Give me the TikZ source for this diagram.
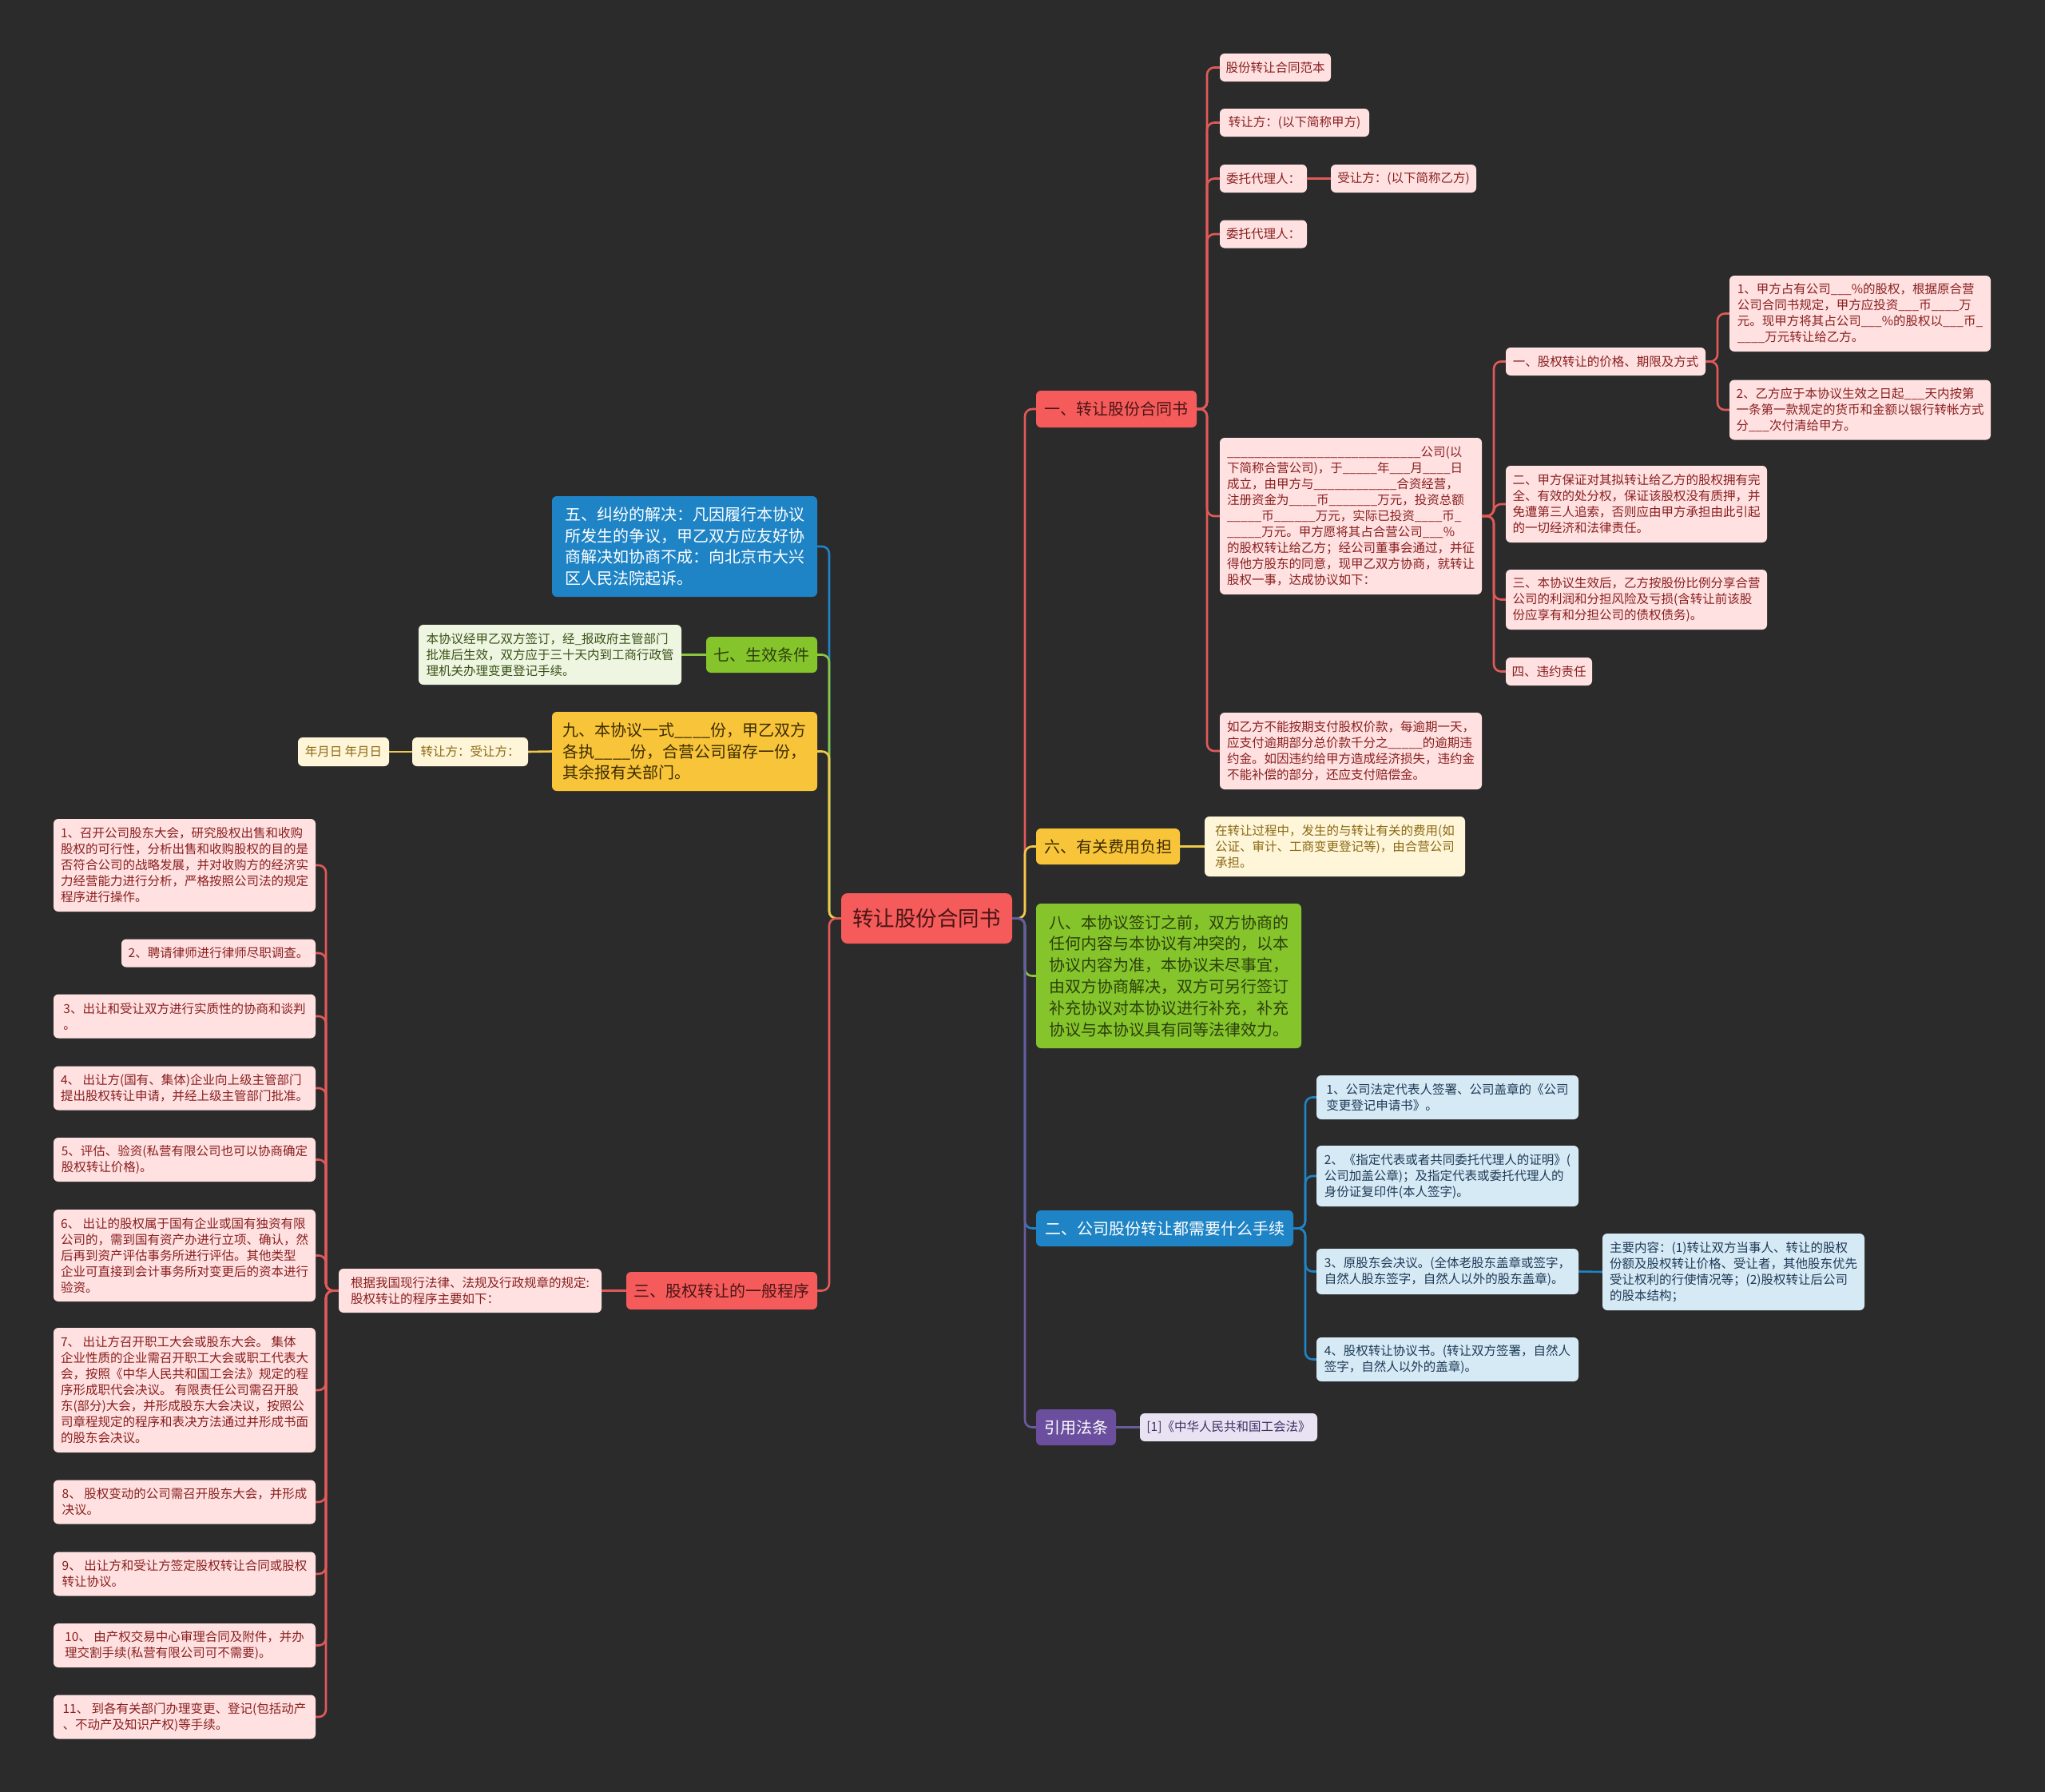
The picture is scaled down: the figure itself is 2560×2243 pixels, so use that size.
\documentclass[tikz,border=0pt]{standalone}
\usepackage{fontspec}
\setmainfont{Noto Sans CJK SC}
\definecolor{bgc}{HTML}{2B2B2B}
\definecolor{fRed}{HTML}{F65B5B}
\definecolor{lRed}{HTML}{E05A5A}
\definecolor{pRed}{HTML}{FFE1E1}
\definecolor{tRed}{HTML}{8A1F1F}
\definecolor{dRed}{HTML}{4A1515}
\definecolor{fYel}{HTML}{F8C53A}
\definecolor{lYel}{HTML}{F0C94A}
\definecolor{pYel}{HTML}{FFF5D8}
\definecolor{tYel}{HTML}{8A6A14}
\definecolor{dYel}{HTML}{3D2B00}
\definecolor{fGrn}{HTML}{86C42C}
\definecolor{lGrn}{HTML}{8CC63F}
\definecolor{pGrn}{HTML}{EEF6E1}
\definecolor{tGrn}{HTML}{3A5218}
\definecolor{dGrn}{HTML}{2A400C}
\definecolor{fBlu}{HTML}{1F84C6}
\definecolor{lBlu}{HTML}{1F84C6}
\definecolor{pBlu}{HTML}{D6EAF6}
\definecolor{tBlu}{HTML}{1E3A56}
\definecolor{fPur}{HTML}{6B4F9E}
\definecolor{lPur}{HTML}{6A5A9E}
\definecolor{pPur}{HTML}{E8E2F2}
\definecolor{tPur}{HTML}{3F2F66}
\newcommand\lffont{\fontsize{15.5}{20}\selectfont}
\newcommand\brfont{\fontsize{20}{26.8}\selectfont}
\newcommand\ctfont{\fontsize{26.5}{32}\selectfont}
\newcommand\uu[1]{\ifnum#1>0 \_\expandafter\uu\expandafter{\the\numexpr#1-1\relax}\fi}
\begin{document}
\begin{tikzpicture}[x=1pt,y=-1pt,
 sz/.style 2 args={minimum width=#1pt,minimum height=#2pt},
 box/.style={rounded corners=6pt,inner xsep=6pt,inner ysep=3pt,align=left},
 ctr/.style={box,fill=fRed,text=dRed,font=\ctfont,rounded corners=8pt},
 bR/.style={box,fill=fRed,text=dRed,font=\brfont},
 bY/.style={box,fill=fYel,text=dYel,font=\brfont},
 bG/.style={box,fill=fGrn,text=dGrn,font=\brfont},
 bB/.style={box,fill=fBlu,text=white,font=\brfont},
 bP/.style={box,fill=fPur,text=white,font=\brfont},
 lR/.style={box,fill=pRed,text=tRed,font=\lffont},
 lY/.style={box,fill=pYel,text=tYel,font=\lffont},
 lG/.style={box,fill=pGrn,text=tGrn,font=\lffont},
 lB/.style={box,fill=pBlu,text=tBlu,font=\lffont},
 lP/.style={box,fill=pPur,text=tPur,font=\lffont},
 con/.style={line width=2.6pt,rounded corners=9pt},
]
\fill[bgc] (0,0) rectangle (2560,2243);
\useasboundingbox (0,0) rectangle (2560,2243);

\coordinate (TR) at (1283,0);
\coordinate (TL) at (1038,0);
\coordinate (Ta) at (1511,0);
\coordinate (Tb) at (1870,0);
\coordinate (Tc) at (2150,0);
\coordinate (Td) at (1634,0);
\coordinate (Te) at (408,0);

% center and main branches
\node[ctr,sz={214}{63}] (C) at (1160,1149.5) {转让股份合同书};
\node[bR,sz={201}{46}] (R1) at (1397.5,512) {一、转让股份合同书};
\node[bY,sz={180}{45}] (R6) at (1387,1059.5) {六、有关费用负担};
\node[bG,sz={332}{181}] (R8) at (1463,1221.5) {八、本协议签订之前，双方协商的\\任何内容与本协议有冲突的，以本\\协议内容为准，本协议未尽事宜，\\由双方协商解决，双方可另行签订\\补充协议对本协议进行补充，补充\\协议与本协议具有同等法律效力。};
\node[bB,sz={322}{45}] (R2) at (1458,1537.5) {二、公司股份转让都需要什么手续};
\node[bP,sz={100}{45}] (RY) at (1347,1786.5) {引用法条};
\node[bB,sz={332}{126}] (L5) at (857,684) {五、纠纷的解决：凡因履行本协议\\所发生的争议，甲乙双方应友好协\\商解决如协商不成：向北京市大兴\\区人民法院起诉。};
\node[bG,sz={139}{45}] (L7) at (953.5,819.5) {七、生效条件};
\node[bY,sz={332}{99}] (L9) at (857,940.5) {九、本协议一式\uu{4}份，甲乙双方\\各执\uu{4}份，合营公司留存一份，\\其余报有关部门。};
\node[bR,sz={239}{47}] (L3) at (903.5,1615.5) {三、股权转让的一般程序};

% right red leaves
\node[lR,sz={139}{35}] (a1) at (1596.5,84.5) {股份转让合同范本};
\node[lR,sz={187}{35}] (a2) at (1620.5,153.5) {转让方：(以下简称甲方)};
\node[lR,sz={109}{35}] (a3) at (1581.5,223.5) {委托代理人：};
\node[lR,sz={182}{35}] (a3b) at (1757,223.5) {受让方：(以下简称乙方)};
\node[lR,sz={109}{35}] (a4) at (1581.5,293) {委托代理人：};
\node[lR,sz={328}{196}] (a5) at (1691,646) {\uu{28}公司(以\\下简称合营公司)，于\uu{5}年\uu{3}月\uu{4}日\\成立，由甲方与\uu{12}合资经营，\\注册资金为\uu{4}币\uu{7}万元，投资总额\\\uu{5}币\uu{6}万元，实际已投资\uu{4}币\uu{1}\\\uu{5}万元。甲方愿将其占合营公司\uu{3}\%\\的股权转让给乙方；经公司董事会通过，并征\\得他方股东的同意，现甲乙双方协商，就转让\\股权一事，达成协议如下：};
\node[lR,sz={328}{96}] (a6) at (1691,940) {如乙方不能按期支付股权价款，每逾期一天，\\应支付逾期部分总价款千分之\uu{5}的逾期违\\约金。如因违约给甲方造成经济损失，违约金\\不能补偿的部分，还应支付赔偿金。};
\node[lR,sz={250}{35}] (b1) at (2010,452.5) {一、股权转让的价格、期限及方式};
\node[lR,sz={327}{96}] (b2) at (2048.5,631) {二、甲方保证对其拟转让给乙方的股权拥有完\\全、有效的处分权，保证该股权没有质押，并\\免遭第三人追索，否则应由甲方承担由此引起\\的一切经济和法律责任。};
\node[lR,sz={327}{75}] (b3) at (2048.5,750.5) {三、本协议生效后，乙方按股份比例分享合营\\公司的利润和分担风险及亏损(含转让前该股\\份应享有和分担公司的债权债务)。};
\node[lR,sz={108}{35}] (b4) at (1939,840.5) {四、违约责任};
\node[lR,sz={327}{95}] (c1) at (2328.5,392.5) {1、甲方占有公司\uu{3}\%的股权，根据原合营\\公司合同书规定，甲方应投资\uu{3}币\uu{4}万\\元。现甲方将其占公司\uu{3}\%的股权以\uu{3}币\uu{1}\\\uu{4}万元转让给乙方。};
\node[lR,sz={327}{75}] (c2) at (2328.5,513) {2、乙方应于本协议生效之日起\uu{3}天内按第\\一条第一款规定的货币和金额以银行转帐方式\\分\uu{3}次付清给甲方。};

% yellow / blue / purple right leaves
\node[lY,sz={326}{75}] (y1) at (1671,1059.5) {在转让过程中，发生的与转让有关的费用(如\\公证、审计、工商变更登记等)，由合营公司\\承担。};
\node[lB,sz={328}{55}] (d1) at (1812,1373.5) {1、公司法定代表人签署、公司盖章的《公司\\变更登记申请书》。};
\node[lB,sz={328}{76}] (d2) at (1812,1472) {2、《指定代表或者共同委托代理人的证明》(\\公司加盖公章)；及指定代表或委托代理人的\\身份证复印件(本人签字)。};
\node[lB,sz={328}{57}] (d3) at (1812,1591.5) {3、原股东会决议。(全体老股东盖章或签字，\\自然人股东签字，自然人以外的股东盖章)。};
\node[lB,sz={328}{55}] (d4) at (1812,1701.5) {4、股权转让协议书。(转让双方签署，自然人\\签字，自然人以外的盖章)。};
\node[lB,sz={328}{96}] (d5) at (2170,1592) {主要内容：(1)转让双方当事人、转让的股权\\份额及股权转让价格、受让者，其他股东优先\\受让权利的行使情况等；(2)股权转让后公司\\的股本结构；};
\node[lP,sz={222}{35}] (p1) at (1538,1786.5) {[1]《中华人民共和国工会法》};

% left leaves
\node[lG,sz={329}{75}] (g1) at (688.5,819.5) {本协议经甲乙双方签订，经\_报政府主管部门\\批准后生效，双方应于三十天内到工商行政管\\理机关办理变更登记手续。};
\node[lY,sz={145}{36}] (y2) at (588.5,941) {转让方：受让方：};
\node[lY,sz={114}{36}] (y3) at (430,941) {年月日 年月日};
\node[lR,sz={329}{55}] (r0) at (588.5,1615.5) {根据我国现行法律、法规及行政规章的规定:\\股权转让的程序主要如下：};
\node[lR,sz={328}{116}] (e1) at (231,1083) {1、召开公司股东大会，研究股权出售和收购\\股权的可行性，分析出售和收购股权的目的是\\否符合公司的战略发展，并对收购方的经济实\\力经营能力进行分析，严格按照公司法的规定\\程序进行操作。};
\node[lR,sz={243}{35}] (e2) at (273.5,1193) {2、聘请律师进行律师尽职调查。};
\node[lR,sz={328}{55}] (e3) at (231,1272) {3、出让和受让双方进行实质性的协商和谈判\\。};
\node[lR,sz={328}{55}] (e4) at (231,1362) {4、 出让方(国有、集体)企业向上级主管部门\\提出股权转让申请，并经上级主管部门批准。};
\node[lR,sz={328}{55}] (e5) at (231,1451.5) {5、评估、验资(私营有限公司也可以协商确定\\股权转让价格)。};
\node[lR,sz={328}{115}] (e6) at (231,1571.5) {6、 出让的股权属于国有企业或国有独资有限\\公司的，需到国有资产办进行立项、确认，然\\后再到资产评估事务所进行评估。其他类型\\企业可直接到会计事务所对变更后的资本进行\\验资。};
\node[lR,sz={328}{156}] (e7) at (231,1740) {7、 出让方召开职工大会或股东大会。 集体\\企业性质的企业需召开职工大会或职工代表大\\会，按照《中华人民共和国工会法》规定的程\\序形成职代会决议。 有限责任公司需召开股\\东(部分)大会，并形成股东大会决议，按照公\\司章程规定的程序和表决方法通过并形成书面\\的股东会决议。};
\node[lR,sz={328}{55}] (e8) at (231,1880) {8、 股权变动的公司需召开股东大会，并形成\\决议。};
\node[lR,sz={328}{55}] (e9) at (231,1970) {9、 出让方和受让方签定股权转让合同或股权\\转让协议。};
\node[lR,sz={328}{55}] (e10) at (231,2059.5) {10、 由产权交易中心审理合同及附件，并办\\理交割手续(私营有限公司可不需要)。};
\node[lR,sz={328}{55}] (e11) at (231,2149) {11、 到各有关部门办理变更、登记(包括动产\\、不动产及知识产权)等手续。};

% connectors: center to branches
\draw[con,lRed] (C.east) -- (C.east -| TR) |- (R1.west);
\draw[con,lYel] (C.east) -- (C.east -| TR) |- (R6.west);
\draw[con,lGrn] (C.east) -- (C.east -| TR) |- (R8.west);
\draw[con,lBlu] (C.east) -- (C.east -| TR) |- (R2.west);
\draw[con,lPur] (C.east) -- (C.east -| TR) |- (RY.west);
\draw[con,lBlu] (C.west) -- (C.west -| TL) |- (L5.east);
\draw[con,lGrn] (C.west) -- (C.west -| TL) |- (L7.east);
\draw[con,lYel] (C.west) -- (C.west -| TL) |- (L9.east);
\draw[con,lRed] (C.west) -- (C.west -| TL) |- (L3.east);

% sub connectors
\foreach \n in {a1,a2,a3,a4,a5,a6} \draw[con,lRed] (R1.east) -- (R1.east -| Ta) |- (\n.west);
\draw[con,lRed] (a3.east) -- (a3b.west);
\foreach \n in {b1,b2,b3,b4} \draw[con,lRed] (a5.east) -- (a5.east -| Tb) |- (\n.west);
\foreach \n in {c1,c2} \draw[con,lRed] (b1.east) -- (b1.east -| Tc) |- (\n.west);
\draw[con,lYel] (R6.east) -- (y1.west);
\foreach \n in {d1,d2,d3,d4} \draw[con,lBlu] (R2.east) -- (R2.east -| Td) |- (\n.west);
\draw[con,lBlu] (d3.east) -- (d5.west);
\draw[con,lPur] (RY.east) -- (p1.west);
\draw[con,lGrn] (L7.west) -- (g1.east);
\draw[con,lYel] (L9.west) -- (y2.east);
\draw[con,lYel] (y2.west) -- (y3.east);
\draw[con,lRed] (L3.west) -- (r0.east);
\foreach \n in {e1,e2,e3,e4,e5,e6,e7,e8,e9,e10,e11} \draw[con,lRed] (r0.west) -- (r0.west -| Te) |- (\n.east);
\end{tikzpicture}
\end{document}
